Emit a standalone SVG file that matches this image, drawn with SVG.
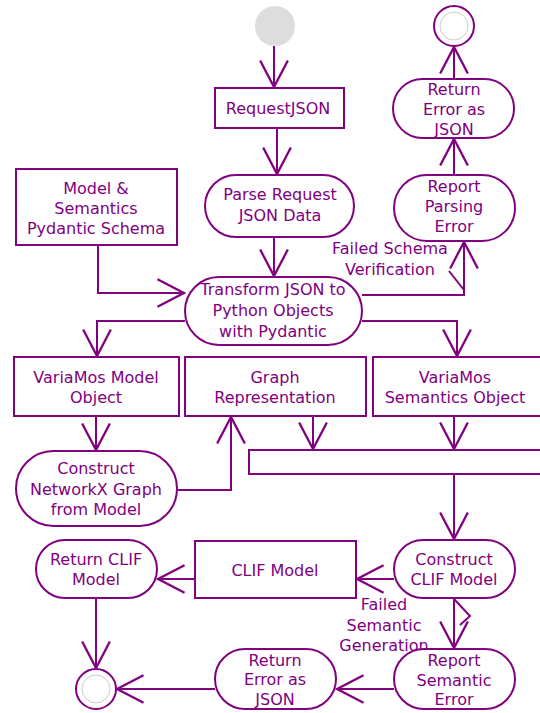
<svg xmlns="http://www.w3.org/2000/svg" width="540" height="713" viewBox="0 0 540 713">
<defs>
<style>
.n{fill:#ffffff;stroke:#800080;stroke-width:2}
.t{font-family:"DejaVu Sans",sans-serif;font-size:16px;fill:#800080;text-anchor:middle}
.e{fill:none;stroke:#800080;stroke-width:2}
</style>
<marker id="a" markerUnits="userSpaceOnUse" markerWidth="30" markerHeight="30" viewBox="-24 -13 26 26" refX="0" refY="0" orient="auto">
<path d="M-23,-12 L0,0 L-23,12" fill="none" stroke="#800080" stroke-width="2"/>
</marker>
</defs>
<rect width="540" height="713" fill="#ffffff"/>
<g id="connectors">
<path class="e" d="M274,46 V87" marker-end="url(#a)"/>
<path class="e" d="M277,128 V174" marker-end="url(#a)"/>
<path class="e" d="M274,237 V276" marker-end="url(#a)"/>
<path class="e" d="M98,245 V293 H184" marker-end="url(#a)"/>
<path class="e" d="M362,295 H464 V242" marker-end="url(#a)"/>
<path class="e" d="M449,271 L464,290"/>
<path class="e" d="M454,175 V139" marker-end="url(#a)"/>
<path class="e" d="M454,79 V47" marker-end="url(#a)"/>
<path class="e" d="M185,321 H97 V356" marker-end="url(#a)"/>
<path class="e" d="M362,321 H457 V356" marker-end="url(#a)"/>
<path class="e" d="M96,416 V450" marker-end="url(#a)"/>
<path class="e" d="M177,490 H231 V417" marker-end="url(#a)"/>
<path class="e" d="M313,416 V449" marker-end="url(#a)"/>
<path class="e" d="M454,416 V449" marker-end="url(#a)"/>
<path class="e" d="M454,474 V539" marker-end="url(#a)"/>
<path class="e" d="M394,579 H357" marker-end="url(#a)"/>
<path class="e" d="M195,579 H158" marker-end="url(#a)"/>
<path class="e" d="M96,598 V668" marker-end="url(#a)"/>
<path class="e" d="M454,598 V648" marker-end="url(#a)"/>
<path class="e" d="M454,599 L470,616 L460,625"/>
<path class="e" d="M394,689 H337" marker-end="url(#a)"/>
<path class="e" d="M215,689 H117" marker-end="url(#a)"/>
<text class="t" x="390" y="254">Failed Schema</text>
<text class="t" x="390" y="275">Verification</text>
<text class="t" x="384" y="610">Failed</text>
<text class="t" x="384" y="631">Semantic</text>
<text class="t" x="384" y="651">Generation</text>
</g>
<g id="start"><circle cx="275" cy="26" r="20" fill="#dddddd"/></g>
<g id="requestjson"><rect class="n" x="215" y="88" width="129" height="40"/><text class="t" x="278" y="114">RequestJSON</text></g>
<g id="parse"><rect class="n" x="205" y="175" width="149" height="62" rx="31"/><text class="t" x="280" y="200">Parse Request</text><text class="t" x="280" y="221">JSON Data</text></g>
<g id="schema"><rect class="n" x="16" y="169" width="161" height="76"/><text class="t" x="96" y="194">Model &amp;</text><text class="t" x="96" y="214">Semantics</text><text class="t" x="96" y="234">Pydantic Schema</text></g>
<g id="reportparsing"><rect class="n" x="394" y="175" width="121" height="66" rx="33"/><text class="t" x="454" y="192">Report</text><text class="t" x="454" y="212">Parsing</text><text class="t" x="454" y="232">Error</text></g>
<g id="returnerror1"><rect class="n" x="393" y="79" width="121" height="59" rx="29.5"/><text class="t" x="454" y="95">Return</text><text class="t" x="454" y="115">Error as</text><text class="t" x="454" y="135">JSON</text></g>
<g id="end1"><circle cx="454" cy="26" r="20" fill="#ffffff" stroke="#800080" stroke-width="2"/><circle cx="454" cy="26" r="14" fill="none" stroke="#cccccc" stroke-width="1"/></g>
<g id="transform"><rect class="n" x="185" y="277" width="177" height="68" rx="34"/><text class="t" x="273" y="295">Transform JSON to</text><text class="t" x="273" y="316">Python Objects</text><text class="t" x="273" y="337">with Pydantic</text></g>
<g id="modelobj"><rect class="n" x="14" y="357" width="165" height="59"/><text class="t" x="96" y="383">VariaMos Model</text><text class="t" x="96" y="403">Object</text></g>
<g id="graphrep"><rect class="n" x="185" y="357" width="181" height="59"/><text class="t" x="275" y="383">Graph</text><text class="t" x="275" y="403">Representation</text></g>
<g id="semobj"><rect class="n" x="373" y="357" width="170" height="59"/><text class="t" x="455" y="383">VariaMos</text><text class="t" x="455" y="403">Semantics Object</text></g>
<g id="bar"><rect class="n" x="249" y="450" width="296" height="24"/></g>
<g id="networkx"><rect class="n" x="16" y="451" width="161" height="75" rx="37.5"/><text class="t" x="96" y="474">Construct</text><text class="t" x="96" y="495">NetworkX Graph</text><text class="t" x="96" y="515">from Model</text></g>
<g id="constructclif"><rect class="n" x="394" y="540" width="121" height="58" rx="29"/><text class="t" x="454" y="565">Construct</text><text class="t" x="454" y="585">CLIF Model</text></g>
<g id="clifmodel"><rect class="n" x="195" y="541" width="161" height="57"/><text class="t" x="275" y="576">CLIF Model</text></g>
<g id="returnclif"><rect class="n" x="36" y="540" width="121" height="58" rx="29"/><text class="t" x="96" y="565">Return CLIF</text><text class="t" x="96" y="585">Model</text></g>
<g id="reportsemantic"><rect class="n" x="394" y="649" width="121" height="60" rx="30"/><text class="t" x="454" y="666">Report</text><text class="t" x="454" y="686">Semantic</text><text class="t" x="454" y="705">Error</text></g>
<g id="returnerror2"><rect class="n" x="215" y="649" width="121" height="60" rx="30"/><text class="t" x="275" y="666">Return</text><text class="t" x="275" y="685">Error as</text><text class="t" x="275" y="705">JSON</text></g>
<g id="end2"><circle cx="96" cy="689" r="20" fill="#ffffff" stroke="#800080" stroke-width="2"/><circle cx="96" cy="689" r="14" fill="none" stroke="#cccccc" stroke-width="1"/></g>
</svg>
